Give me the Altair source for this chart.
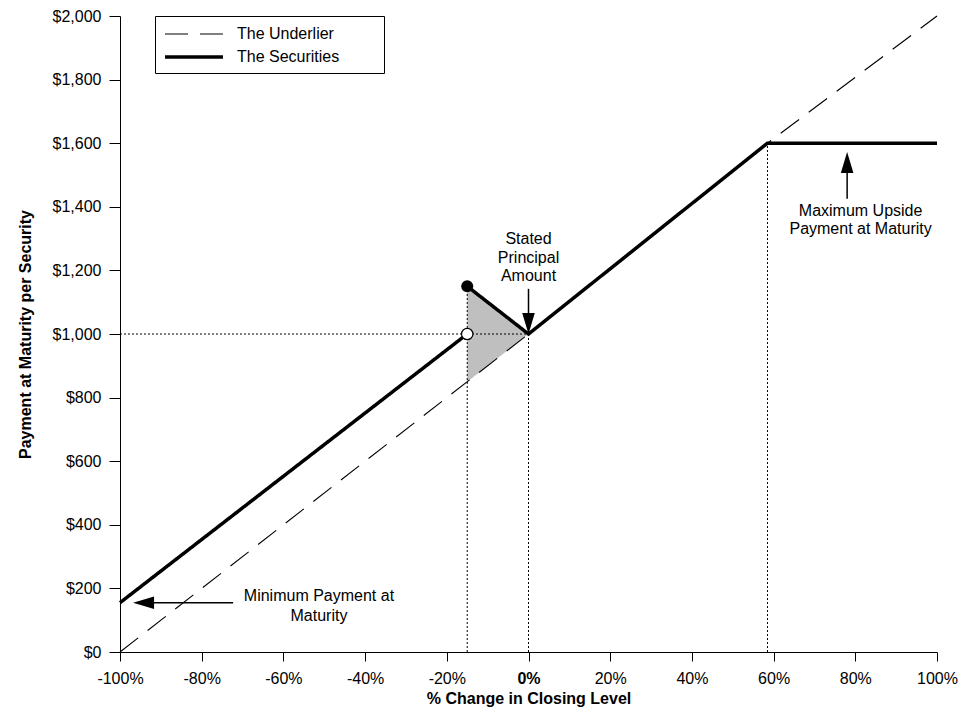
import altair as alt
import pandas as pd

# ---- data ----
und_x = [-100, 0, 58.5, 100]
und_y = [0, 1000, 1600, 2000]

sec1_x = [-100, -15]
sec1_y = [155, 1000]
sec2_x = [-15, 0, 58.5, 100]
sec2_y = [1150, 1000, 1600, 1600]

shade_x = [-15, 0]
shade_top = [1150, 1000]
shade_bot = [850, 1000]

guide_x = [-100, -15, 0, 58.5]
guide_x2 = [0, -15, 0, 58.5]
guide_y = [1000, 0, 0, 0]
guide_y2 = [1000, 1150, 1000, 1600]

filled_dot = {"x": [-15], "y": [1150]}
open_dot = {"x": [-15], "y": [1000]}

head_x = [0, 78, -96.8]
head_y = [1000, 1572, 155]
head_dir = ["down", "up", "left"]

shaft_x = [0, 78, -72.3]
shaft_x2 = [0, 78, -94]
shaft_y = [1142, 1425, 155]
shaft_y2 = [1030, 1550, 155]

note_x = [0, 0, 0, 81.3, 81.3, -51.3, -51.3]
note_y = [1299, 1239, 1181, 1387, 1330, 176, 113]
note_text = ["Stated", "Principal", "Amount", "Maximum Upside",
             "Payment at Maturity", "Minimum Payment at", "Maturity"]

x_ticks = list(range(-100, 101, 20))
y_ticks = list(range(0, 2001, 200))

U = "The Underlier"
S = "The Securities"

# ---- tables ----
line_df = pd.DataFrame({
    "series": [U] * len(und_x) + [S] * len(sec1_x) + [S] * len(sec2_x),
    "seg": ["u"] * len(und_x) + ["s1"] * len(sec1_x) + ["s2"] * len(sec2_x),
    "x": und_x + sec1_x + sec2_x,
    "y": und_y + sec1_y + sec2_y,
})
shade_df = pd.DataFrame({"x": shade_x, "y": shade_top, "y2": shade_bot})
guide_df = pd.DataFrame({"x": guide_x, "x2": guide_x2, "y": guide_y, "y2": guide_y2})
head_df = pd.DataFrame({"x": head_x, "y": head_y, "dir": head_dir})
shaft_df = pd.DataFrame({"x": shaft_x, "x2": shaft_x2, "y": shaft_y, "y2": shaft_y2})
note_df = pd.DataFrame({"x": note_x, "y": note_y, "text": note_text})

FONT = "Liberation Sans"

xscale = alt.Scale(domain=[-100, 100], nice=False, zero=False)
yscale = alt.Scale(domain=[0, 2000], nice=False, zero=False)

xaxis = alt.Axis(
    values=x_ticks, labelExpr="datum.value + '%'",
    labelFontWeight={"condition": {"test": "datum.value === 0", "value": "bold"}, "value": "normal"},
    labelFlush=False, labelOverlap=False, grid=False,
    tickSize=9, labelPadding=9, titlePadding=4,
    labelFontSize=16, titleFontSize=16, titleFontWeight="bold",
    domainColor="black", tickColor="black", labelColor="black", titleColor="black",
)
yaxis = alt.Axis(
    values=y_ticks, format="$,.0f", grid=False, labelFlush=False, labelOverlap=False,
    tickSize=11, labelPadding=8, titlePadding=19,
    labelFontSize=16, titleFontSize=16, titleFontWeight="bold",
    domainColor="black", tickColor="black", labelColor="black", titleColor="black",
)

X = alt.X("x:Q", scale=xscale, axis=xaxis, title="% Change in Closing Level")
Y = alt.Y("y:Q", scale=yscale, axis=yaxis, title="Payment at Maturity per Security")

pad_chars = "\u2800" * 3
legend = alt.Legend(
    title=None, orient="none", legendX=35, legendY=0,
    symbolType="M-1,0H5.44", symbolSize=324, symbolStrokeColor="black",
    labelFontSize=16, labelColor="black", labelOffset=52, labelLimit=400,
    padding=8, rowPadding=4,
    strokeColor="black", fillColor="white", labelExpr="datum.label + '" + pad_chars + "'",
)

shade = alt.Chart(shade_df).mark_area(color="#bfbfbf", opacity=1).encode(
    x=X, y=Y, y2="y2:Q")

guides = alt.Chart(guide_df).mark_rule(color="black", strokeWidth=1, strokeDash=[2, 2]).encode(
    x=X, x2="x2:Q", y=Y, y2="y2:Q")

lines = alt.Chart(line_df).mark_line(color="black", strokeCap="butt").encode(
    x=X, y=Y, detail="seg:N",
    strokeDash=alt.StrokeDash("series:N", scale=alt.Scale(domain=[U, S], range=[[23, 12], [1, 0]]), legend=legend),
    strokeWidth=alt.StrokeWidth("series:N", scale=alt.Scale(domain=[U, S], range=[1.1, 3.5]), legend=legend),
)

dot_f = alt.Chart(pd.DataFrame(filled_dot)).mark_circle(color="black", opacity=1, size=144).encode(x=X, y=Y)
dot_o = alt.Chart(pd.DataFrame(open_dot)).mark_circle(fill="white", stroke="black", strokeWidth=1.2,
                                                     opacity=1, size=130).encode(x=X, y=Y)

shafts = alt.Chart(shaft_df).mark_rule(color="black", strokeWidth=1.5).encode(
    x=X, x2="x2:Q", y=Y, y2="y2:Q")

heads = alt.Chart(head_df).mark_point(filled=True, color="black", opacity=1, size=1764).encode(
    x=X, y=Y,
    shape=alt.Shape("dir:N", scale=alt.Scale(
        domain=["down", "up", "left"],
        range=["M0,0L-0.3,-1L0.3,-1Z", "M0,0L-0.3,1L0.3,1Z", "M0,0L1,-0.3L1,0.3Z"]), legend=None),
)

notes = alt.Chart(note_df).mark_text(fontSize=16, color="black", align="center", baseline="middle",
                                     font=FONT).encode(x=X, y=Y, text="text:N")

chart = alt.layer(shade, guides, lines, dot_f, dot_o, shafts, heads, notes).properties(
    width=817, height=636,
    padding={"left": 112, "top": 8, "right": 28, "bottom": 58},
    autosize=alt.AutoSizeParams(type="none"),
).configure(font=FONT).configure_view(stroke=None)

chart.save("out.html", embed_options={"renderer": "svg", "actions": False})
